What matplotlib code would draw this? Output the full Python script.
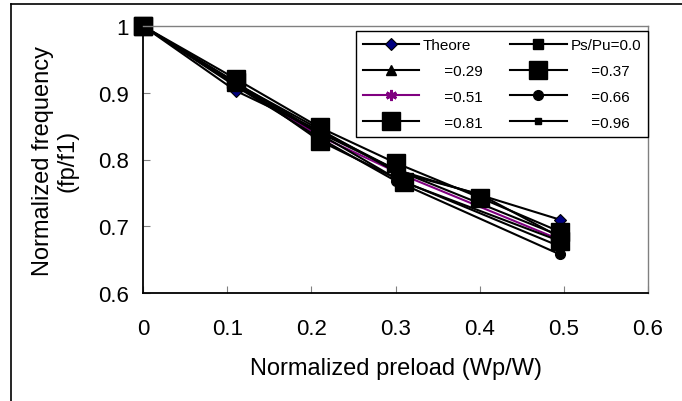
"""Normalized frequency vs normalized preload, Excel-style line chart."""
import matplotlib

matplotlib.use("Agg")
import matplotlib.pyplot as plt
from matplotlib.lines import Line2D

plt.rcParams["font.family"] = ["Liberation Sans", "DejaVu Sans"]

# --- data ---
x_theore = [0.0, 0.11, 0.21, 0.30, 0.40, 0.495]
y_theore = [1.0, 0.903, 0.843, 0.785, 0.747, 0.710]

x_000 = [0.0, 0.11, 0.21, 0.30, 0.495]
y_000 = [1.0, 0.915, 0.840, 0.785, 0.686]

x_029 = [0.0, 0.11, 0.21, 0.30, 0.40, 0.495]
y_029 = [1.0, 0.914, 0.845, 0.782, 0.748, 0.684]

x_037 = [0.0, 0.11, 0.21, 0.30, 0.40, 0.495]
y_037 = [1.0, 0.921, 0.848, 0.795, 0.743, 0.692]

x_051 = [0.0, 0.11, 0.21, 0.31, 0.495]
y_051 = [1.0, 0.912, 0.835, 0.776, 0.680]

x_066 = [0.0, 0.11, 0.21, 0.30, 0.495]
y_066 = [1.0, 0.910, 0.832, 0.768, 0.658]

x_081 = [0.0, 0.11, 0.21, 0.31, 0.495]
y_081 = [1.0, 0.916, 0.828, 0.766, 0.678]

x_096 = [0.0, 0.11, 0.21, 0.30, 0.495]
y_096 = [1.0, 0.912, 0.838, 0.772, 0.670]

x_ticks = [0, 0.1, 0.2, 0.3, 0.4, 0.5, 0.6]
x_ticklabels = ["0", "0.1", "0.2", "0.3", "0.4", "0.5", "0.6"]
y_ticks = [0.6, 0.7, 0.8, 0.9, 1.0]
y_ticklabels = ["0.6", "0.7", "0.8", "0.9", "1"]

fig = plt.figure(figsize=(6.82, 4.02), dpi=100)
ax = fig.add_axes([143 / 682, 1 - 294 / 402, 505 / 682, 267 / 402])

lw = 1.5
series = [
    (x_theore, y_theore, "Theore", dict(color="black", marker="D", ms=6.5,
                                        mfc="#000080", mec="black", mew=0.8)),
    (x_000, y_000, "Ps/Pu=0.0", dict(color="black", marker="s", ms=7)),
    (x_029, y_029, "     =0.29", dict(color="black", marker="^", ms=7)),
    (x_037, y_037, "     =0.37", dict(color="black", marker="s", ms=13)),
    (x_051, y_051, "     =0.51", dict(color="#800080", marker=(6, 2, 0), ms=8,
                                      mec="#800080", mew=2, zorder=1.5)),
    (x_066, y_066, "     =0.66", dict(color="black", marker="o", ms=7)),
    (x_081, y_081, "     =0.81", dict(color="black", marker="s", ms=13)),
    (x_096, y_096, "     =0.96", dict(color="black", marker="s", ms=5)),
]

handles = {}
for xs, ys, label, style in series:
    (h,) = ax.plot(xs, ys, lw=lw, label=label, clip_on=False, **style)
    handles[label] = h

ax.set_xlim(0, 0.6)
ax.set_ylim(0.6, 1.0)
ax.set_xticks(x_ticks)
ax.set_xticklabels(x_ticklabels)
ax.set_yticks(y_ticks)
ax.set_yticklabels(y_ticklabels)
ax.tick_params(direction="in", length=5, color="#808080", labelsize=16)
ax.tick_params(axis="x", pad=18)
ax.tick_params(axis="y", pad=10)

for side in ("left", "bottom"):
    ax.spines[side].set_color("black")
    ax.spines[side].set_linewidth(1.3)
for side in ("top", "right"):
    ax.spines[side].set_color("#808080")
    ax.spines[side].set_linewidth(1.0)

ax.set_xlabel("Normalized preload (Wp/W)", fontsize=17, labelpad=13)
ax.set_ylabel("Normalized frequency\n(fp/f1)", fontsize=17, labelpad=14,
              linespacing=1.15)

# legend is filled row-wise in the reference; matplotlib fills by column
labels = [s[2] for s in series]
order = labels[0::2] + labels[1::2]
leg = ax.legend([handles[l] for l in order], order, ncol=2, fontsize=11,
                loc="upper right", bbox_to_anchor=(1.0, 0.981),
                frameon=True, fancybox=False, framealpha=1, edgecolor="black",
                handlelength=3.7, handletextpad=0.25, columnspacing=1.8,
                labelspacing=0.78, borderpad=0.45, borderaxespad=0.0)
leg.get_frame().set_linewidth(1.0)

# outer chart frame (left and top edges visible)
fig.add_artist(Line2D([11 / 682, 11 / 682], [0, 1 - 5 / 402], color="black", lw=1.2))
fig.add_artist(Line2D([11 / 682, 1], [1 - 5 / 402, 1 - 5 / 402], color="black", lw=1.2))

fig.savefig("out.png", dpi=100)
